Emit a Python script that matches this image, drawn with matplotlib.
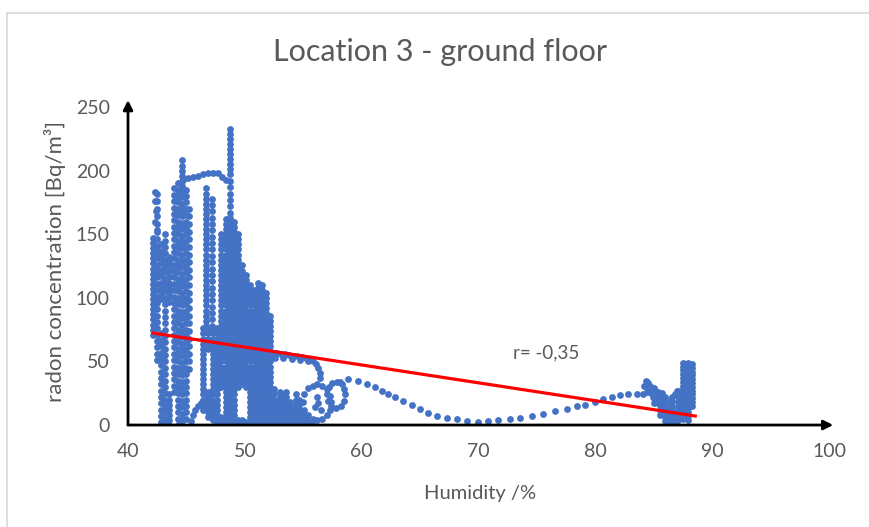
import matplotlib
matplotlib.use('Agg')
import matplotlib.pyplot as plt
from matplotlib.lines import Line2D

plt.rcParams['font.family'] = ['Lato', 'DejaVu Sans']

# dense vertical streaks: (humidity, [radon values])
left_cols = [
    (42.15, [147, 143, 139, 135, 131, 127, 123, 119, 115, 111, 107, 103, 99, 95, 91, 87, 83, 79, 75, 71]),
    (42.5, [182, 176, 170, 164, 158, 152, 146, 141, 136, 131, 126, 121, 116, 111, 106, 101, 96, 91, 86, 81, 76, 71, 66, 61, 56, 51]),
    (42.85, [142, 137, 132, 127, 122, 117, 112, 107, 102, 99, 72, 67, 62, 57, 52, 47, 42, 37, 32, 27, 22, 17, 12, 7, 2]),
    (43.2, [150, 145, 140, 135, 130, 125, 120, 115, 110, 105, 100, 95, 90, 85, 80, 75, 70, 65, 60, 55, 50, 45, 40, 35, 30, 25, 20, 15, 10, 5, 0]),
    (43.55, [132, 128, 124, 120, 116, 112, 108, 104, 100, 97, 24, 20, 16, 12, 8, 4, 0]),
    (43.9, [186, 181, 176, 171, 166, 161, 156, 151, 146, 141, 136, 131, 126, 121, 116, 111, 106, 101, 96, 91, 86, 81, 76, 71, 66, 61, 56, 51, 46, 41, 36, 31, 26]),
    (44.25, [190, 185, 180, 175, 170, 165, 160, 155, 150, 145, 140, 135, 130, 125, 120, 115, 110, 105, 100, 95, 90, 85, 80, 75, 70, 65, 60, 55, 50, 45, 40, 35, 30, 25, 20, 15, 10, 5, 0]),
    (44.6, [208, 204, 200, 196, 192, 188, 184, 179, 174, 169, 164, 159, 154, 149, 144, 139, 134, 129, 124, 119, 114, 109, 104, 99, 94, 89, 84, 79, 74, 69, 64, 59, 54, 49, 44, 39, 34, 29, 24, 19, 14, 9, 4, 0]),
    (44.95, [185, 180, 175, 170, 165, 160, 155, 150, 145, 140, 135, 130, 125, 120, 115, 110, 105, 100, 95, 90, 85, 80, 75, 70, 65, 60, 55, 50, 45, 40, 35, 30, 25, 20, 15, 10, 5]),
    (45.25, [170, 164, 158, 152, 146, 140, 134, 128, 122, 116, 110, 104, 98, 92, 86, 80, 74, 68, 62, 56, 50, 44]),
]

mid_cols = [
    (46.7, [186, 182, 178, 174, 170, 166, 162, 158, 154, 150, 146, 142, 138, 134, 130, 126, 122, 118, 114, 110, 106, 102, 98, 94, 90, 86, 82, 78]),
    (47.15, [178, 173, 168, 163, 158, 153, 148, 143, 138, 133, 128, 123, 118, 113, 108, 103, 98, 93, 88, 83, 78]),
    (46.45, [76, 72, 68, 64, 60, 56, 52, 48, 44, 40, 36, 32, 28, 24, 20, 16, 12]),
    (46.85, [76, 72, 68, 64, 60, 26, 22, 18, 14, 10, 6]),
    (47.25, [76, 72, 68, 64, 60, 56, 52, 48, 44, 40, 36, 32, 28, 24, 20, 16, 12, 8, 4]),
    (47.65, [76, 72, 68, 64, 60, 56, 52, 48, 44, 40, 36, 32, 28, 24, 20, 16, 12, 8, 4, 0]),
    (48.0, [150, 146, 142, 138, 134, 130, 126, 122, 118, 114, 110, 106, 102, 98, 94, 90, 86, 82, 78, 74, 70, 66, 62, 58, 54, 50, 46, 42, 38, 34, 30, 6, 2]),
    (48.35, [162, 158, 154, 150, 146, 142, 138, 134, 130, 126, 122, 118, 114, 110, 106, 102, 98, 94, 90, 86, 82, 78, 74, 70, 66, 62, 58, 54, 50, 46, 42, 38, 34, 30, 26, 22, 18, 14, 10, 6, 2]),
    (48.7, [233, 229, 225, 221, 217, 213, 209, 205, 201, 197, 192, 187, 182, 177, 172, 167, 163, 159, 155, 151, 147, 143, 139, 135, 131, 127, 123, 119, 115, 111, 107, 103, 99, 95, 91, 87, 83, 79, 75, 71, 67, 63, 59, 55, 51, 47, 43, 39, 35, 31, 27, 23, 19, 15, 11, 7, 3, 0]),
    (49.05, [160, 156, 152, 148, 144, 140, 136, 132, 128, 124, 120, 116, 112, 108, 104, 100, 96, 92, 88, 84, 80, 76, 72, 68, 64, 60, 56, 52, 48, 44, 40, 36, 32, 28, 24, 20, 16, 12, 8, 4, 0]),
    (49.4, [150, 146, 142, 138, 134, 130, 126, 122, 118, 114, 110, 106, 102, 98, 94, 90, 86, 82, 78, 74, 70, 66, 62, 58, 54, 50, 46, 42, 38, 34, 30, 4, 0]),
    (49.75, [126, 121, 116, 112, 108, 104, 100, 96, 92, 88, 84, 80, 76, 72, 68, 64, 60, 56, 52, 48, 44, 40, 36, 32, 4, 0]),
    (50.1, [118, 114, 110, 106, 102, 98, 94, 90, 86, 82, 78, 74, 70, 66, 62, 58, 54, 50, 46, 42, 38, 34, 30, 2]),
    (50.45, [110, 106, 102, 98, 94, 90, 86, 82, 78, 74, 70, 66, 62, 58, 54, 50, 46, 42, 38, 34, 30, 26, 22, 18, 14, 10, 6, 2]),
    (50.8, [106, 102, 98, 94, 90, 86, 82, 78, 74, 70, 66, 62, 58, 54, 50, 46, 42, 38, 34, 30, 26, 22, 18, 14, 10, 6, 2]),
    (51.15, [112, 108, 104, 100, 96, 92, 88, 84, 80, 76, 72, 68, 64, 60, 56, 52, 48, 44, 40, 36, 32, 28, 24, 20, 16, 12, 8, 4, 0]),
    (51.5, [110, 106, 102, 98, 94, 90, 86, 82, 78, 74, 70, 66, 62, 58, 54, 50, 46, 42, 38, 34, 30, 26, 22, 18, 14, 10, 6, 2]),
    (51.85, [104, 100, 96, 92, 88, 84, 80, 76, 72, 68, 64, 60, 56, 52, 48, 44, 40, 36, 32, 28, 24, 20, 16, 12, 8, 4, 0]),
    (52.15, [86, 82, 78, 74, 70, 66, 62, 58, 54, 50, 46, 42, 38, 34, 30, 26, 22, 18, 14, 10, 6, 2]),
]

low_cols = [
    (52.5, [28, 24, 20, 16, 12, 8, 4, 0]),
    (52.85, [20, 16, 12, 8, 4, 0]),
    (53.0, [26, 22]),
    (53.2, [23, 19, 15, 11, 7, 3]),
    (53.55, [26, 22, 18, 14, 10, 6, 2]),
    (53.9, [18, 14, 10, 6, 2]),
    (54.25, [14, 10, 6, 2]),
    (54.4, [24, 20, 16]),
    (54.6, [20, 16, 12, 8, 4, 0]),
    (54.95, [10, 6, 2]),
    (55.35, [7, 3, 0]),
    (55.75, [2, 0]),
    (84.45, [34, 30, 26]),
    (85.0, [29, 25, 21, 17]),
    (85.5, [24, 20, 16, 12, 8]),
    (86.0, [18, 14, 10, 6, 3]),
    (86.55, [22, 18, 14, 10, 6, 2]),
    (87.1, [27, 23, 19, 15, 11, 7, 4]),
    (87.5, [49, 46, 43, 40, 37, 34, 31, 28, 25, 22, 19, 16, 13, 10, 7, 5]),
    (87.9, [49, 46, 43, 40, 37, 34, 31, 28, 25, 22, 19, 16, 13, 10, 7, 4]),
    (88.3, [48, 45, 42, 39, 36, 33, 30, 27, 24, 21, 18, 15]),
]

# single traced points: tops, ledge, loops, arc, right cluster
trace_x = [42.3, 42.35, 42.4, 42.3, 42.45,
           44.7, 45.15, 45.55, 46.0, 46.4, 46.85, 47.3, 47.7, 48.05, 48.35,
           45.35, 45.55, 45.75, 46.0, 46.25, 46.5, 46.75, 47.0,
           52.4, 52.75, 53.1, 53.45, 53.8, 54.15, 54.5, 54.85, 55.2, 55.55, 55.85, 56.1, 56.3, 56.4, 56.4,
           52.6, 53.3, 54.0, 54.7, 55.4,
           55.0, 55.1, 55.4, 55.8, 56.2, 56.6, 57.0, 57.3, 57.4, 57.3, 57.0, 56.6, 56.2, 55.8, 55.4, 55.1,
           56.2, 56.3, 56.0, 56.5,
           57.0, 57.2, 57.5, 57.9, 58.3, 58.5, 58.6, 58.5, 58.2, 57.8, 57.4, 57.1,
           58.15, 58.84, 59.69, 60.46, 61.15, 61.75, 62.26, 62.86, 63.54, 64.32, 65.0, 65.68, 66.46, 67.31,
           68.17, 69.02, 69.97, 70.82, 71.68, 72.71, 73.56, 74.59, 75.53, 76.56, 77.59, 78.44, 79.13, 79.98,
           80.67, 81.44, 82.12, 82.81, 83.58, 84.09,
           84.3, 84.5, 84.7, 84.9, 85.1, 85.3, 85.5, 85.7, 85.9, 86.1, 86.3,
           84.2, 84.4, 84.6, 84.8, 85.0, 85.2, 85.4, 85.6, 85.8, 86.0, 86.2,
           84.9, 85.1, 85.4, 85.7, 86.0, 86.3, 86.5, 86.7,
           86.4, 86.7, 87.0, 86.5, 86.8, 87.0]
trace_y = [183, 176, 168, 160, 153,
           193, 194, 195, 196, 197, 198, 198, 198, 195, 193,
           3, 8, 12, 15, 17, 16, 14, 11,
           57, 56.5, 56, 55.5, 55, 54.5, 54, 53.5, 53, 52, 50.5, 48, 45, 41, 37,
           53, 52.5, 52, 51.5, 50.5,
           18, 24, 29, 31, 32, 31, 28, 23, 18, 12, 8, 5, 4, 5, 8, 12,
           22, 17, 14, 12,
           24, 30, 33, 34, 32, 28, 24, 19, 15, 13, 15, 19,
           33.8, 36.2, 34.6, 32.2, 29.9, 26.7, 24.4, 22.0, 18.9, 15.7, 12.6, 9.4, 7.1, 5.5,
           4.7, 3.1, 2.4, 3.1, 3.9, 4.7, 5.5, 7.1, 8.6, 11.0, 12.6, 14.9, 15.7, 18.1,
           20.4, 22.0, 23.6, 24.4, 24.4, 24.4,
           35, 33, 31, 29, 27, 24, 21, 18, 15, 12, 9,
           31, 29, 27, 25, 23, 20, 17, 14, 11, 8, 5,
           22, 24, 26, 25, 22, 18, 14, 10,
           3, 2, 3, 20, 24, 27]

trend_x = [42.15, 88.55]
trend_y = [72.3, 7.1]


def flatten(cols):
    xs, ys = [], []
    for x, col in cols:
        xs += [x] * len(col)
        ys += col
    return xs, ys


hum, rad = [], []
for cols in (left_cols, mid_cols, low_cols):
    xs, ys = flatten(cols)
    hum += xs
    rad += ys
hum += trace_x
rad += trace_y

grey = '#595959'
fig = plt.figure(figsize=(8.69, 5.27), dpi=100)
ax = fig.add_axes([0.1473, 0.1935, 0.8067, 0.6034])

ax.scatter(hum, rad, s=24, color='#4472C4', linewidths=0, zorder=2)
ax.plot(trend_x, trend_y, color='#FF0000', lw=2.3, zorder=3)
ax.text(72.96, 56.5, 'r= -0,35', color=grey, fontsize=13.5, ha='left', va='center')

ax.set_xlim(40, 100)
ax.set_ylim(0, 250)
ax.set_xticks([40, 50, 60, 70, 80, 90, 100])
ax.set_yticks([0, 50, 100, 150, 200, 250])
ax.tick_params(length=0, labelsize=14, labelcolor=grey)
ax.tick_params(axis='y', pad=13)
ax.tick_params(axis='x', pad=13)
for s in ax.spines.values():
    s.set_visible(False)

# axis arrows
ax.annotate('', xy=(1.006, 0), xytext=(0, 0), xycoords='axes fraction',
            arrowprops=dict(arrowstyle='-|>', color='black', lw=2, mutation_scale=14, shrinkA=0, shrinkB=0), zorder=5)
ax.annotate('', xy=(0, 1.022), xytext=(0, 0), xycoords='axes fraction',
            arrowprops=dict(arrowstyle='-|>', color='black', lw=2, mutation_scale=14, shrinkA=0, shrinkB=0), zorder=5)

fig.text(0.506, 0.902, 'Location 3 - ground floor', fontsize=22, color=grey, ha='center', va='center')
fig.text(0.552, 0.0645, 'Humidity /%', fontsize=14.5, color=grey, ha='center', va='center')
fig.text(0.063, 0.503, 'radon concentration [Bq/m³]', fontsize=16, color=grey, ha='center', va='center', rotation=90)

# chart border
fig.add_artist(Line2D([6.5 / 869, 6.5 / 869], [0, 1 - 12.5 / 527], color='#D9D9D9', lw=1.2))
fig.add_artist(Line2D([6.5 / 869, 1], [1 - 12.5 / 527, 1 - 12.5 / 527], color='#D9D9D9', lw=1.2))

fig.savefig('out.png', dpi=100)
